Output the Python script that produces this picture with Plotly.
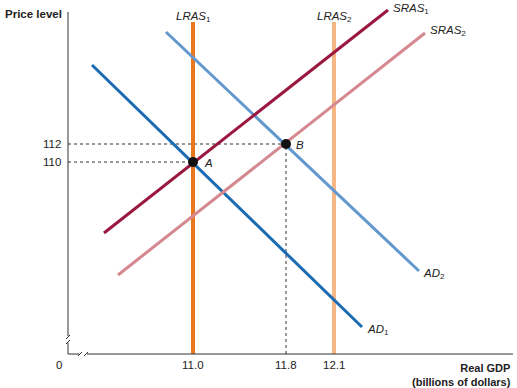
import plotly.graph_objects as go

# Schematic coordinate system: x = horizontal units from y-axis, y = vertical units from x-axis
x_tick_pos = [125, 218, 266]
x_tick_text = ["11.0", "11.8", "12.1"]
y_tick_pos = [192, 210]
y_tick_text = ["110", "112"]

# Curves (schematic endpoints)
lras1_x, lras1_y = [125, 125], [0, 332]
lras2_x, lras2_y = [266, 266], [0, 332]
sras1_x, sras1_y = [36, 320], [121, 344]
sras2_x, sras2_y = [50, 357], [79, 321]
ad1_x, ad1_y = [24, 294], [289, 27]
ad2_x, ad2_y = [98, 351], [322, 83]

eq_names = ["A", "B"]
eq_x = [125, 218]
eq_y = [192, 210]

FONT = "Liberation Sans, Arial, sans-serif"
fig = go.Figure()

def line(x, y, color, width=3, dash=None):
    fig.add_trace(go.Scatter(x=x, y=y, mode="lines",
                             line=dict(color=color, width=width, dash=dash),
                             hoverinfo="skip", showlegend=False))

# Dotted guide lines
line([0, eq_x[0]], [eq_y[0], eq_y[0]], "#333333", 1, "dot")
line([0, eq_x[1]], [eq_y[1], eq_y[1]], "#333333", 1, "dot")
line([eq_x[1], eq_x[1]], [0, eq_y[1]], "#333333", 1, "dot")

line(lras1_x, lras1_y, "#E8781E", 4)
line(lras2_x, lras2_y, "#F7B785", 4)
line(ad2_x, ad2_y, "#6398CE", 3)
line(ad1_x, ad1_y, "#1B6BB3", 3)
line(sras2_x, sras2_y, "#D68890", 3)
line(sras1_x, sras1_y, "#9A1840", 3)

fig.add_trace(go.Scatter(x=eq_x, y=eq_y, mode="markers",
                         marker=dict(color="#111111", size=10),
                         hoverinfo="skip", showlegend=False))

# Axes with breaks
ax = dict(color="#333333", width=1)
shapes = [
    dict(type="line", x0=0, y0=342, x1=0, y1=18, line=ax),
    dict(type="line", x0=-2, y0=15, x1=2, y1=19, line=ax),
    dict(type="line", x0=-2, y0=10, x1=2, y1=14, line=ax),
    dict(type="line", x0=0, y0=11, x1=0, y1=0, line=ax),
    dict(type="line", x0=0, y0=0, x1=11, y1=0, line=ax),
    dict(type="line", x0=10, y0=-2, x1=14, y1=2, line=ax),
    dict(type="line", x0=16, y0=-2, x1=20, y1=2, line=ax),
    dict(type="line", x0=19, y0=0, x1=445, y1=0, line=ax),
]

ann = []
def text(x, y, s, xanchor="center", yanchor="middle", size=11, bold=False, italic=False, align="center"):
    if italic:
        s = "<i>" + s + "</i>"
    if bold:
        s = "<b>" + s + "</b>"
    ann.append(dict(x=x, y=y, text=s, showarrow=False, xanchor=xanchor, yanchor=yanchor,
                    align=align, font=dict(family=FONT, size=size, color="#222222")))

for p, t in zip(x_tick_pos, x_tick_text):
    text(p, -11, t, size=11.5)
text(-9, -11, "0", size=11.5)
for p, t in zip(y_tick_pos, y_tick_text):
    text(-5, p, t, xanchor="right", size=11.5)

text(-65, 340, "Price level", xanchor="left", bold=True, size=11.5)
text(445, -6, "Real GDP<br>(billions of dollars)", xanchor="right", yanchor="top", bold=True, size=11, align="right")

text(lras1_x[0], 337, "<i>LRAS</i><sub>1</sub>", size=11.5)
text(lras2_x[0], 337, "<i>LRAS</i><sub>2</sub>", size=11.5)
text(sras1_x[1] + 3, 345, "<i>SRAS</i><sub>1</sub>", xanchor="left", size=11.5)
text(sras2_x[1] + 3, 323, "<i>SRAS</i><sub>2</sub>", xanchor="left", size=11.5)
text(ad2_x[1] + 2, 80, "<i>AD</i><sub>2</sub>", xanchor="left", size=11.5)
text(ad1_x[1] + 3, 24, "<i>AD</i><sub>1</sub>", xanchor="left", size=11.5)
text(eq_x[0] + 9, eq_y[0] - 1, "A", xanchor="left", italic=True, size=11.5)
text(eq_x[1] + 8, eq_y[1] - 1, "B", xanchor="left", italic=True, size=11.5)

fig.update_layout(
    width=517, height=388,
    margin=dict(l=0, r=0, t=0, b=0),
    paper_bgcolor="white", plot_bgcolor="white",
    xaxis=dict(range=[-68, 449], visible=False, fixedrange=True),
    yaxis=dict(range=[-34, 354], visible=False, fixedrange=True),
    shapes=shapes, annotations=ann,
)

# Remove the default page margin so the figure fills the window exactly
fig.write_html("out.html",
               config={"displayModeBar": False, "staticPlot": True},
               post_script="document.body.style.margin='0';document.body.style.overflow='hidden';")
